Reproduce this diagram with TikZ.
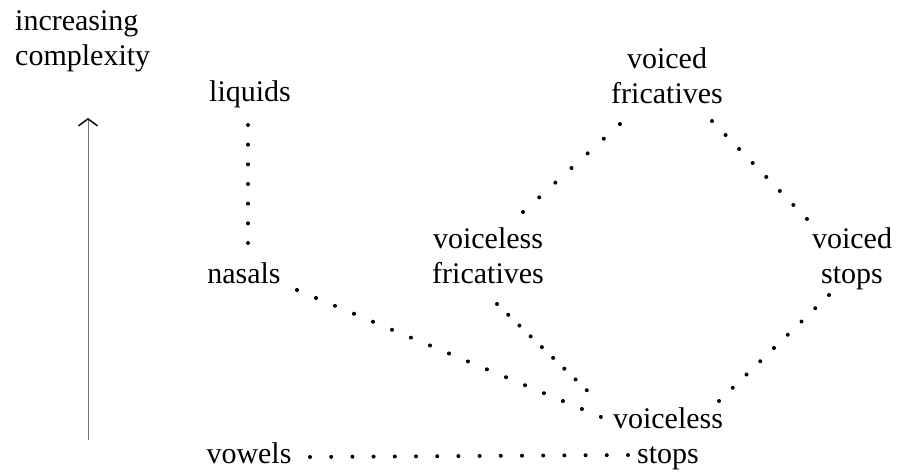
\documentclass[tikz,border=0pt]{standalone}
\usepackage{fontspec}
\setmainfont{Liberation Serif}
\usetikzlibrary{calc,arrows.meta,decorations.markings}
\tikzset{
  lbl/.style={inner sep=0pt, anchor=base, align=center, font=\fontsize{30}{35}\selectfont},
  dotrow/.style={decorate, decoration={markings,
      mark=between positions 0 and 1 step #1 with {\fill (0,0) circle (2pt);}}},
  scaleaxis/.style={line width=0.9pt, black!55,
      -{Straight Barb[length=7pt,width=19pt,line width=1.4pt,color=black]}}
}
\begin{document}
\begin{tikzpicture}[x=1pt,y=-1pt]
\useasboundingbox (0,0) rectangle (900,474);
% labels (base anchor = baseline of the last line)
\node[lbl, anchor=base west, align=left] (incr) at (15,65) {increasing\\complexity};
\node[lbl] (liq) at (250,101) {liquids};
\node[lbl] (nas) at (244,283) {nasals};
\node[lbl] (vow) at (249,463) {vowels};
\node[lbl] (vlf) at (488,283) {voiceless\\fricatives};
\node[lbl] (vdf) at (667,103) {voiced\\fricatives};
\node[lbl] (vds) at (852,283) {voiced\\stops};
\node[lbl] (vls) at (668,463) {voiceless\\stops};
% complexity axis
\coordinate (abot) at (88,440);
\coordinate (atop) at (88,118);
\draw[scaleaxis] (abot) -- (atop);
% dotted connectors
\draw[dotrow=0.16666] ($(liq.base)+(-2,24)$) -- ($(nas.base)+(4,-40)$);
\draw[dotrow=0.06249] ($(nas.base)+(53,7)$) -- ($(vls.base)+(-67,-46)$);
\draw[dotrow=0.06666] ($(vow.base)+(61,-6)$) -- ($(vls.base)+(-40,-8)$);
\draw[dotrow=0.11111] ($(vlf.base)+(9,21)$) -- ($(vls.base)+(-70,-62)$);
\draw[dotrow=0.16666] ($(vlf.base)+(35,-71)$) -- ($(vdf.base)+(-47,21)$);
\draw[dotrow=0.14285] ($(vdf.base)+(45,18)$) -- ($(vds.base)+(-45,-64)$);
\draw[dotrow=0.12499] ($(vls.base)+(51,-62)$) -- ($(vds.base)+(-23,12)$);
\end{tikzpicture}
\end{document}
